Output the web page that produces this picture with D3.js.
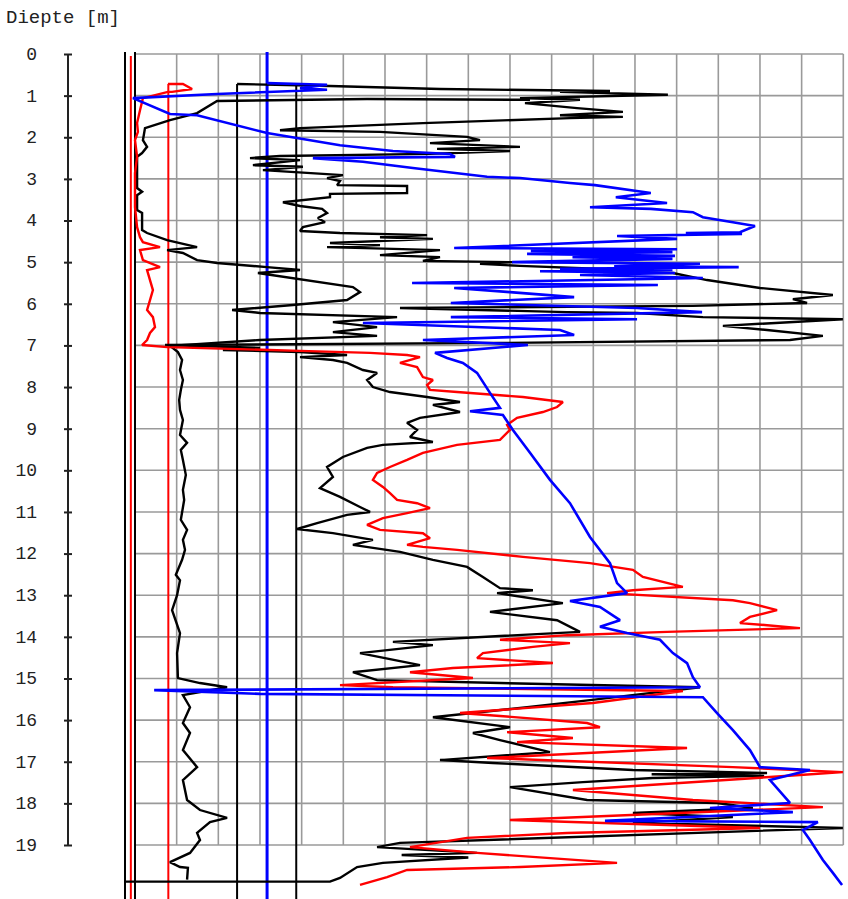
<!DOCTYPE html>
<html><head><meta charset="utf-8">
<script src="https://cdn.jsdelivr.net/npm/d3@7"></script>
<style>body{margin:0;background:#fff}svg{display:block}</style>
</head><body>
<script>
// ---- data: [depth (m), value (grid units)] ----
const depthTicks = d3.range(0, 20);
const yTitle = "Diepte [m]";

const qcBlack = [[0.72,2.45],[0.77,4.68],[0.84,7.32],[0.89,11.40],[0.91,10.20],[0.98,12.79],[1.06,9.24],[1.10,10.68],[1.18,9.36],[1.30,10.61],[1.39,11.71],[1.47,10.20],[1.51,11.71],[1.54,10.44],[1.66,6.91],[1.78,3.96],[1.83,3.48],[1.87,5.88],[1.99,7.97],[2.07,8.28],[2.14,7.08],[2.23,9.24],[2.28,7.25],[2.33,9.00],[2.40,7.08],[2.45,3.48],[2.50,2.76],[2.55,3.96],[2.67,2.83],[2.71,4.03],[2.79,3.07],[2.91,4.99],[2.98,4.61],[3.05,4.92],[3.15,4.85],[3.17,6.53],[3.34,6.53],[3.36,4.68],[3.44,4.68],[3.56,3.55],[3.65,3.96],[3.72,4.49],[3.82,4.61],[3.94,4.39],[4.04,4.56],[4.16,4.03],[4.25,3.96],[4.30,4.92],[4.35,7.01],[4.40,5.88],[4.44,7.15],[4.54,4.68],[4.59,5.88],[4.64,4.61],[4.71,7.32],[4.83,5.88],[4.88,7.32],[4.97,6.91],[5.00,9.07],[5.04,8.28],[5.09,9.24],[5.19,11.88],[5.24,11.23],[5.26,12.91],[5.43,13.73],[5.62,15.00],[5.79,16.75],[5.89,15.79],[5.98,16.13],[6.05,13.39],[6.10,6.36],[6.20,10.37],[6.22,12.05],[6.32,13.63],[6.37,16.99],[6.53,14.11],[6.63,15.17],[6.77,16.51],[6.87,15.72],[6.94,8.76],[6.99,0.72],[7.06,3.00],[7.11,2.11],[7.16,3.96],[7.23,5.09],[7.28,3.96],[7.35,4.75],[7.42,5.09],[7.59,5.47],[7.66,5.81],[7.83,5.57],[8.00,5.71],[8.12,6.12],[8.24,7.01],[8.36,7.80],[8.43,7.15],[8.60,7.80],[8.74,6.84],[8.86,6.53],[9.03,6.77],[9.20,6.60],[9.32,7.15],[9.39,5.95],[9.46,5.57],[9.68,4.99],[9.92,4.61],[10.16,4.75],[10.43,4.44],[10.64,4.92],[10.88,5.40],[11.00,5.64],[11.07,5.09],[11.27,4.37],[11.41,3.89],[11.51,4.75],[11.67,5.71],[11.79,5.23],[11.96,6.36],[12.15,7.15],[12.32,7.97],[12.56,8.35],[12.83,8.76],[12.88,9.55],[12.95,8.69],[13.19,10.27],[13.40,8.52],[13.60,10.13],[13.88,10.68],[13.98,8.76],[14.12,6.19],[14.20,7.15],[14.39,5.40],[14.68,6.84],[14.85,5.23],[15.04,5.81],[15.11,8.76],[15.21,13.56],[15.52,10.92],[15.69,9.41],[15.93,7.15],[16.17,9.00],[16.31,8.11],[16.48,8.76],[16.77,9.96],[16.96,7.32],[17.03,8.59],[17.20,11.95],[17.27,15.17],[17.30,12.40],[17.34,15.10],[17.39,12.43],[17.49,10.75],[17.61,9.00],[17.92,10.85],[17.99,13.97],[18.11,14.83],[18.23,11.95],[18.33,14.35],[18.47,11.95],[18.59,16.99],[18.95,6.36],[19.05,5.81],[19.19,8.21],[19.24,6.40],[19.30,8.00],[19.43,5.95],[19.53,5.33],[19.79,4.92],[19.88,4.68],[19.88,-0.24]];

const fsBlack = [[1.10,9.48],[1.08,5.57],[1.13,1.97],[1.42,1.49],[1.59,0.84],[1.78,0.24],[2.07,0.19],[2.23,0.29],[2.38,0.17],[2.47,0.05],[2.86,0.05],[3.22,0.05],[3.31,0.17],[3.39,0.05],[3.75,0.05],[3.82,0.17],[4.23,0.17],[4.30,0.29],[4.47,0.77],[4.64,1.49],[4.71,0.77],[4.78,1.15],[4.95,1.49],[5.02,1.97],[5.12,3.17],[5.19,3.96],[5.26,2.95],[5.60,5.23],[5.72,5.40],[5.91,5.09],[6.03,3.79],[6.15,2.33],[6.22,3.00],[6.32,6.29],[6.44,4.75],[6.56,5.81],[6.68,4.75],[6.77,5.81],[6.87,3.00],[7.01,0.84],[7.16,1.03],[7.35,1.13],[7.59,1.08],[7.83,1.15],[8.07,1.10],[8.31,1.06],[8.55,1.08],[8.79,1.15],[9.15,1.08],[9.34,1.25],[9.51,1.10],[9.75,1.15],[10.11,1.22],[10.47,1.15],[10.71,1.18],[11.19,1.10],[11.43,1.25],[11.67,1.15],[11.91,1.20],[12.15,1.13],[12.51,0.98],[12.64,1.08],[13.00,1.01],[13.36,0.89],[13.91,1.08],[14.39,1.01],[14.99,1.03],[15.11,1.56],[15.21,2.21],[15.40,1.15],[15.69,1.32],[16.07,1.15],[16.31,1.32],[16.72,1.15],[17.13,1.49],[17.44,1.15],[17.92,1.25],[18.16,1.56],[18.35,2.21],[18.45,1.80],[18.71,1.49],[18.88,1.56],[19.19,1.32],[19.41,0.84],[19.53,1.08],[19.55,1.27],[19.83,1.25]];

const rfRed = [[0.72,0.79],[0.72,1.15],[0.84,1.37],[0.91,0.89],[0.91,0.79],[1.06,0.19],[1.35,0.12],[1.66,0.05],[1.87,0.07],[2.07,0.00],[2.47,0.05],[2.86,0.00],[3.68,0.00],[4.16,0.05],[4.40,0.12],[4.52,0.19],[4.64,0.60],[4.71,0.12],[4.95,0.19],[5.12,0.60],[5.19,0.29],[5.43,0.36],[5.67,0.43],[5.91,0.36],[6.15,0.29],[6.32,0.43],[6.56,0.48],[6.70,0.36],[6.87,0.29],[6.99,0.17],[7.04,0.77],[7.13,3.96],[7.18,5.64],[7.23,6.53],[7.28,6.84],[7.42,6.36],[7.52,6.77],[7.76,6.91],[7.83,7.15],[7.95,7.01],[8.07,7.08],[8.12,7.73],[8.24,9.31],[8.36,10.27],[8.48,10.13],[8.60,9.79],[8.74,9.17],[8.91,8.93],[9.03,9.00],[9.27,8.76],[9.39,7.73],[9.58,6.91],[9.75,6.53],[9.92,6.12],[10.06,5.81],[10.23,5.71],[10.40,5.95],[10.55,6.12],[10.71,6.29],[10.79,6.77],[10.91,7.08],[11.03,6.53],[11.15,5.95],[11.31,5.57],[11.43,5.88],[11.51,6.91],[11.63,7.08],[11.79,6.53],[11.84,6.91],[11.91,7.73],[12.08,9.31],[12.23,10.92],[12.39,11.95],[12.56,12.19],[12.80,13.15],[12.88,11.95],[12.95,11.33],[13.12,14.35],[13.19,14.76],[13.36,15.41],[13.52,14.76],[13.67,14.52],[13.72,15.17],[13.79,15.96],[13.88,12.77],[13.96,10.37],[14.07,8.76],[14.15,10.44],[14.24,9.55],[14.39,8.35],[14.51,8.21],[14.63,10.03],[14.75,7.63],[14.85,6.60],[14.99,8.11],[15.16,4.92],[15.21,6.19],[15.30,13.15],[15.59,10.99],[15.83,7.80],[15.90,8.76],[16.07,10.85],[16.17,11.16],[16.29,8.93],[16.43,10.51],[16.53,9.17],[16.67,13.25],[16.91,8.45],[17.13,14.35],[17.25,16.99],[17.32,15.96],[17.68,10.51],[17.92,13.39],[18.09,16.51],[18.40,9.00],[18.59,15.00],[18.71,10.37],[18.83,7.97],[19.05,6.60],[19.19,8.21],[19.43,11.57],[19.53,9.24],[19.60,6.53],[19.77,6.05],[19.96,5.40]];

const uBlue = [[0.70,3.17],[0.74,4.61],[0.82,3.96],[0.86,4.61],[0.96,1.97],[1.06,-0.05],[1.44,0.84],[1.47,1.49],[1.90,3.17],[2.19,4.92],[2.33,6.19],[2.40,7.56],[2.47,7.68],[2.50,4.27],[2.59,5.47],[2.74,6.67],[2.95,8.45],[2.98,9.24],[3.10,10.44],[3.15,11.04],[3.34,12.38],[3.44,11.54],[3.58,12.77],[3.68,10.92],[3.72,12.38],[3.80,13.39],[3.92,13.63],[4.04,14.35],[4.13,14.88],[4.28,14.52],[4.30,13.22],[4.32,14.57],[4.37,11.57],[4.44,13.01],[4.66,7.66],[4.69,13.01],[4.73,9.50],[4.76,12.90],[4.80,9.41],[4.85,12.96],[4.88,10.50],[4.92,12.90],[5.00,9.05],[5.04,13.56],[5.10,11.50],[5.12,14.49],[5.16,10.20],[5.19,12.90],[5.22,9.72],[5.26,12.96],[5.31,10.68],[5.35,12.50],[5.38,13.63],[5.43,11.00],[5.50,6.65],[5.55,12.55],[5.62,7.66],[5.72,9.00],[5.84,10.54],[5.98,7.58],[6.10,12.05],[6.20,13.61],[6.32,7.58],[6.37,12.05],[6.46,5.47],[6.63,10.20],[6.75,10.54],[6.87,6.91],[6.99,9.43],[7.18,7.20],[7.30,7.49],[7.42,7.87],[7.66,8.21],[8.14,8.52],[8.50,8.76],[8.58,8.04],[8.67,8.83],[9.03,9.07],[9.58,9.48],[10.23,9.96],[10.79,10.44],[11.60,10.92],[12.23,11.40],[12.71,11.57],[12.95,11.81],[13.14,10.44],[13.28,11.16],[13.60,11.64],[13.76,11.16],[13.91,11.81],[14.07,12.60],[14.39,12.91],[14.63,13.25],[14.97,13.39],[15.21,13.56],[15.28,0.46],[15.37,3.00],[15.45,13.63],[15.83,13.97],[16.24,14.35],[16.72,14.76],[17.13,15.00],[17.20,16.20],[17.44,15.24],[17.99,15.72],[18.11,13.80],[18.21,15.79],[18.42,11.28],[18.45,16.39],[18.64,16.03],[18.88,16.20],[19.36,16.51],[19.67,16.75],[19.96,16.97]];

// reference verticals: value, top depth, bottom depth, series
const refValues = [-0.24, -0.10, 0.00, 0.80, 2.45, 3.17, 3.87];
const refTops   = [-0.05, 0.05, -0.05, 0.72, 0.72, -0.05, 0.77];
const refBottom = 20.3;
const refSeries = ["black", "red", "black", "red", "black", "blue", "black"];

// ---- layout ----
const W = 848, H = 899;
const x = d3.scaleLinear().domain([0, 17]).range([135, 843.3]);
const y = d3.scaleLinear().domain([0, 19]).range([54, 845]);
const colors = {black: "#000000", red: "#ff0000", blue: "#0000ff"};

const svg = d3.select("body").append("svg").attr("width", W).attr("height", H);

// grid
const grid = svg.append("g").attr("stroke", "#9a9a9a").attr("stroke-width", 1.6);
grid.selectAll(".gv").data(d3.range(0, 18)).join("line")
  .attr("x1", d => x(d)).attr("x2", d => x(d)).attr("y1", y(0)).attr("y2", y(19));
grid.selectAll(".gh").data(depthTicks).join("line")
  .attr("x1", x(0)).attr("x2", x(17)).attr("y1", d => y(d)).attr("y2", d => y(d));

// reference vertical lines
svg.append("g").selectAll("line").data(refValues).join("line")
  .attr("x1", d => x(d)).attr("x2", d => x(d))
  .attr("y1", (d, i) => y(refTops[i])).attr("y2", y(refBottom))
  .attr("stroke", (d, i) => colors[refSeries[i]])
  .attr("stroke-width", (d, i) => refSeries[i] === "blue" ? 3 : 2);

// curves
const line = d3.line().x(d => x(d[1])).y(d => y(d[0]));
const curves = [
  {data: fsBlack, c: "black"},
  {data: qcBlack, c: "black"},
  {data: rfRed, c: "red"},
  {data: uBlue, c: "blue"}
];
svg.append("g").selectAll("path").data(curves).join("path")
  .attr("d", d => line(d.data)).attr("fill", "none")
  .attr("stroke", d => colors[d.c]).attr("stroke-width", d => d.c === "blue" ? 2.6 : 2.4)
  .attr("stroke-linejoin", "miter").attr("stroke-miterlimit", 2);

// depth axis
const axis = d3.axisLeft(y).tickValues(depthTicks).tickSize(4).tickSizeOuter(0).tickPadding(27);
const ga = svg.append("g").attr("transform", "translate(68,0)").call(axis);
ga.select(".domain").attr("stroke", "#222").attr("stroke-width", 2).attr("d", `M0,${y(0)}V${y(19)}`);
ga.selectAll(".tick line").attr("x1", -4).attr("x2", 4).attr("stroke", "#222").attr("stroke-width", 2);
ga.selectAll(".tick text").attr("font-family", "Liberation Mono, Courier New, monospace")
  .attr("font-size", 18).attr("fill", "#222").attr("dy", "0.3em");

svg.append("text").attr("x", 6).attr("y", 23).text(yTitle)
  .attr("font-family", "Liberation Mono, Courier New, monospace").attr("font-size", 19).attr("fill", "#222");
</script>
</body></html>
